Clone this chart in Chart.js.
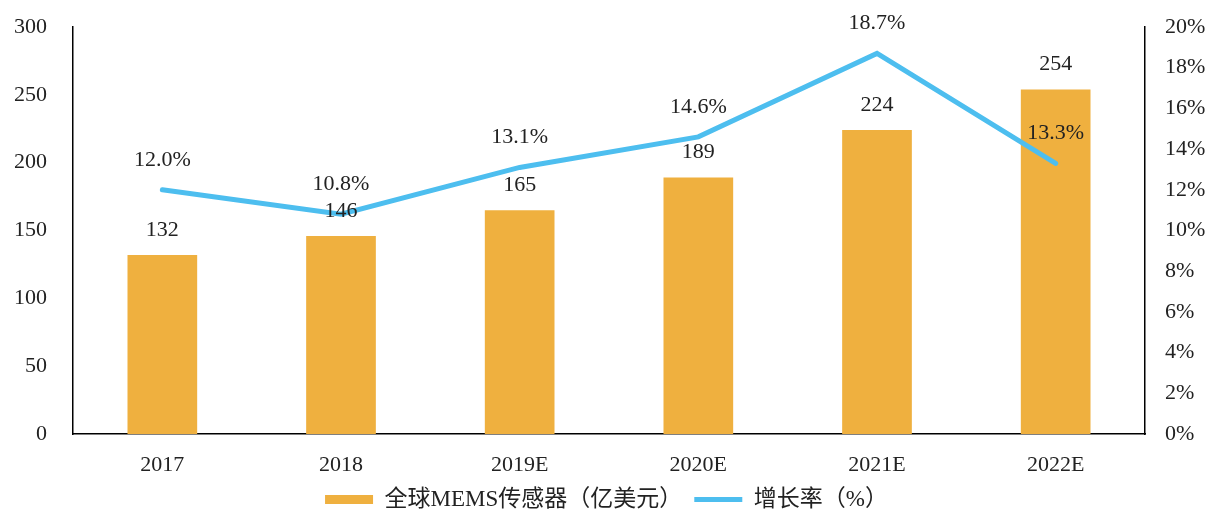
<!DOCTYPE html>
<html>
<head>
<meta charset="utf-8">
<script src="https://cdn.jsdelivr.net/npm/chart.js@4/dist/chart.umd.min.js"></script>
<style>
  html, body { margin: 0; padding: 0; background: #fff; }
  #wrap { width: 1213px; height: 513px; }
</style>
</head>
<body>
<div id="wrap"><canvas id="mems"></canvas></div>
<script>
// 数据
const years = ['2017', '2018', '2019E', '2020E', '2021E', '2022E'];
const marketSize = [132, 146, 165, 189, 224, 254];
const growthRate = [12.0, 10.8, 13.1, 14.6, 18.7, 13.3];
const leftTicks = [0, 50, 100, 150, 200, 250, 300];
const rightTicks = [0, 2, 4, 6, 8, 10, 12, 14, 16, 18, 20];

const fontFamily = '"Liberation Serif", "Times New Roman", "Noto Sans CJK SC", serif';
const fontSize = 22;
const warna = { bar: '#EFB03F', line: '#4DBEEF', text: '#222222' };

// 数值标签
const labelPlugin = {
    id: 'valueLabels',
    afterDatasetsDraw(chart) {
        const ctx = chart.ctx;
        ctx.save();
        ctx.font = fontSize + 'px ' + fontFamily;
        ctx.fillStyle = warna.text;
        ctx.textAlign = 'center';
        ctx.textBaseline = 'middle';
        chart.getDatasetMeta(1).data.forEach((bar, i) => {
            ctx.fillText(String(marketSize[i]), bar.x, bar.y - 25);
        });
        chart.getDatasetMeta(0).data.forEach((pt, i) => {
            ctx.fillText(growthRate[i].toFixed(1) + '%', pt.x, pt.y - 30);
        });
        ctx.restore();
    }
};

// 纵轴尺寸
function fitY(width) {
    return axis => {
        axis.width = width;
        axis.paddingTop = 27;
        axis.paddingBottom = 10;
    };
}

new Chart(document.getElementById('mems'), {
    type: 'bar',
    data: {
        labels: years,
        datasets: [
            {
                type: 'line',
                label: '增长率（%）',
                data: growthRate,
                yAxisID: 'y1',
                borderColor: warna.line,
                backgroundColor: warna.line,
                borderWidth: 5,
                borderCapStyle: 'round',
                pointStyle: 'line',
                pointRadius: 0,
                tension: 0,
                order: 0
            },
            {
                label: '全球MEMS传感器（亿美元）',
                data: marketSize,
                yAxisID: 'y',
                backgroundColor: warna.bar,
                pointStyle: 'rect',
                barPercentage: 0.39,
                categoryPercentage: 1,
                order: 1
            }
        ]
    },
    options: {
        responsive: true,
        maintainAspectRatio: false,
        animation: false,
        layout: { padding: { top: 0, bottom: -8 } },
        plugins: {
            legend: {
                position: 'bottom',
                reverse: true,
                labels: {
                    font: { family: fontFamily, size: 23 },
                    color: warna.text,
                    usePointStyle: true,
                    pointStyleWidth: 48,
                    boxHeight: 9,
                    padding: 12
                }
            },
            tooltip: { enabled: false }
        },
        scales: {
            x: {
                afterFit: axis => { axis.height = 42; },
                grid: { display: false, drawTicks: false },
                border: { color: '#000', width: 1.5 },
                ticks: { color: warna.text, font: { family: fontFamily, size: fontSize }, padding: 18 }
            },
            y: {
                position: 'left',
                min: 0,
                max: 300,
                afterBuildTicks: axis => { axis.ticks = leftTicks.map(v => ({ value: v })); },
                afterFit: fitY(73),
                grid: { display: false, drawTicks: false },
                border: { color: '#000', width: 1.5 },
                ticks: { color: warna.text, font: { family: fontFamily, size: fontSize }, padding: 26 }
            },
            y1: {
                position: 'right',
                min: 0,
                max: 20,
                afterBuildTicks: axis => { axis.ticks = rightTicks.map(v => ({ value: v })); },
                afterFit: fitY(68),
                grid: { display: false, drawTicks: false },
                border: { color: '#000', width: 1.5 },
                ticks: {
                    color: warna.text,
                    font: { family: fontFamily, size: fontSize },
                    padding: 20,
                    callback: v => v + '%'
                }
            }
        }
    },
    plugins: [labelPlugin]
});
</script>
</body>
</html>
